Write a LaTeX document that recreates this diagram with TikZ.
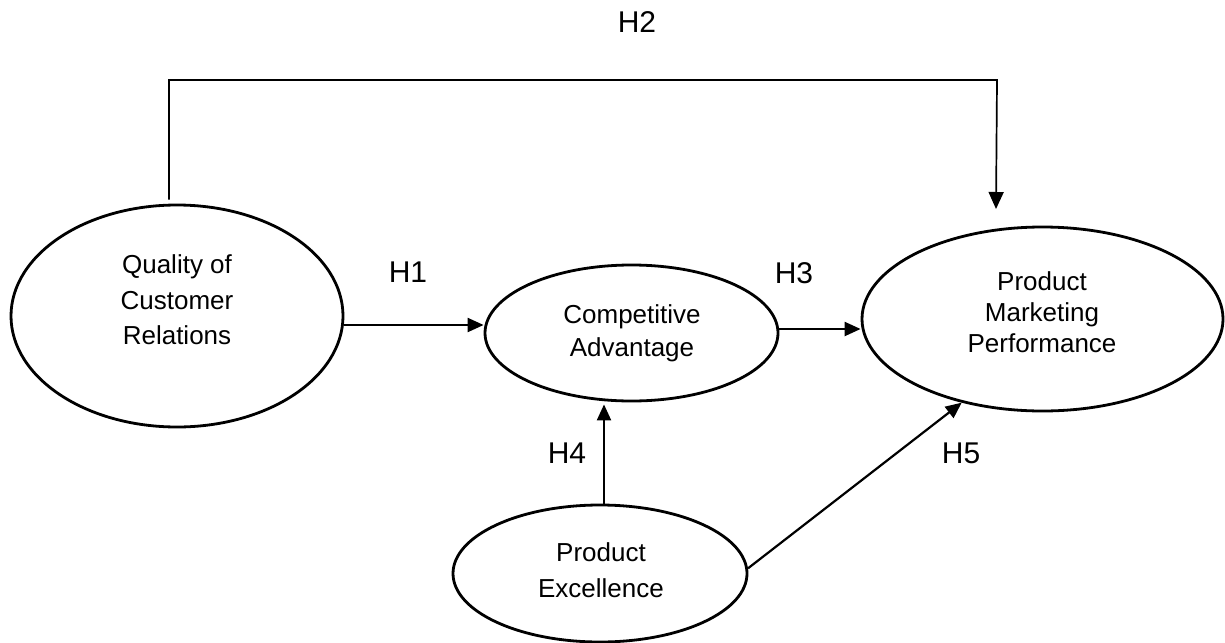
\documentclass[tikz,border=0pt]{standalone}
\usepackage{fontspec}
\setmainfont{Liberation Sans}
\usetikzlibrary{arrows.meta,shapes.geometric}
\begin{document}
\begin{tikzpicture}[x=1pt,y=-1pt,
  oval/.style={draw=black,ellipse,line width=2.8pt,inner sep=0pt},
  txt/.style={align=center,inner sep=0pt,font=\fontsize{26}{33}\selectfont},
  hlab/.style={inner sep=0pt,font=\fontsize{30}{36}\selectfont},
  arr/.style={line width=2.2pt,-{Triangle[length=16pt,width=14pt]}},
  bigarr/.style={line width=1.7pt,-{Triangle[length=17pt,width=15pt]}}]
\useasboundingbox (0,0) rectangle (1225,642);
% ellipses
\node[oval,minimum width=332pt,minimum height=222pt] (qcr) at (177,316) {};
\node[oval,minimum width=293pt,minimum height=136pt] (ca) at (631.5,333) {};
\node[oval,minimum width=361pt,minimum height=184pt] (pmp) at (1042.5,319) {};
\node[oval,minimum width=294pt,minimum height=137pt] (pe) at (600,573.5) {};
% texts
\node[txt,font=\fontsize{26}{35.5}\selectfont] (tqcr) at (177,300) {Quality of\\Customer\\Relations};
\node[txt,font=\fontsize{26}{33.4}\selectfont] (tca) at (632,333.5) {Competitive\\Advantage};
\node[txt,font=\fontsize{26}{30.8}\selectfont] (tpmp) at (1042,312) {Product\\Marketing\\Performance};
\node[txt,font=\fontsize{26}{36.3}\selectfont] (tpe) at (601,570) {Product\\Excellence};
% labels
\node[hlab] (h2) at (637,22) {H2};
\node[hlab] (h1) at (408,272) {H1};
\node[hlab] (h3) at (794,273) {H3};
\node[hlab] (h4) at (567,453) {H4};
\node[hlab] (h5) at (961,453) {H5};
% connectors
\draw[arr] ([yshift=-9pt]qcr.east) -- ([yshift=8pt]ca.west);
\draw[arr] ([yshift=4pt]ca.east) -- ([yshift=-10pt]pmp.west);
\draw[arr] ([xshift=4pt]pe.north) -- ([xshift=4pt,yshift=-2pt]pe.north |- ca.south);
\draw[arr] (pe.2.5) -- (pmp.226);
\coordinate (h2corner) at (997,80);
\coordinate (h2end) at (996,209);
\draw[bigarr] ([xshift=-8pt,yshift=4pt]qcr.north) |- (h2corner) -- (h2end);
\end{tikzpicture}
\end{document}
